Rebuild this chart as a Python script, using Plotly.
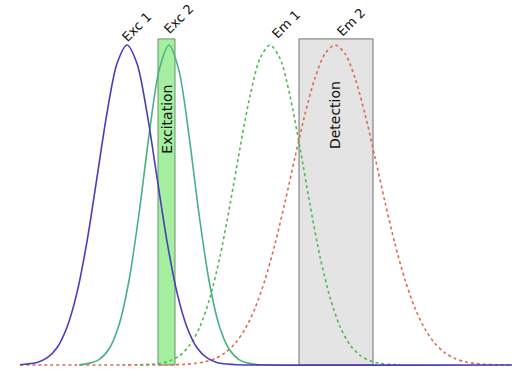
import plotly.graph_objects as go

# Spectra (arbitrary wavelength units, relative intensity)
exc1_x = [20, 27, 37, 47, 57, 67, 77, 87, 97, 107, 117, 127, 137, 147, 157, 167, 177, 187, 197, 207, 217, 227, 237, 512]
exc1_y = [0.001, 0.003, 0.008, 0.022, 0.054, 0.118, 0.226, 0.386, 0.586, 0.788, 0.942, 1.0, 0.942, 0.788, 0.586, 0.386, 0.226, 0.118, 0.054, 0.022, 0.008, 0.003, 0.001, 0.0]

exc2_x = [79, 89, 99, 109, 119, 129, 139, 149, 159, 169, 179, 189, 199, 209, 219, 229, 239, 249, 259]
exc2_y = [0.001, 0.005, 0.017, 0.050, 0.125, 0.264, 0.472, 0.717, 0.920, 1.0, 0.920, 0.717, 0.472, 0.264, 0.125, 0.050, 0.017, 0.005, 0.001]

em1_x = [140, 150, 160, 170, 180, 190, 200, 210, 220, 230, 240, 250, 260, 270, 280, 290, 300, 310, 320, 330, 340, 350, 360, 370, 380, 390, 400]
em1_y = [0.001, 0.002, 0.005, 0.013, 0.030, 0.063, 0.120, 0.211, 0.339, 0.501, 0.678, 0.841, 0.958, 1.0, 0.958, 0.841, 0.678, 0.501, 0.339, 0.211, 0.120, 0.063, 0.030, 0.013, 0.005, 0.002, 0.001]

em2_x = [20, 175, 185, 195, 205, 215, 225, 235, 245, 255, 265, 275, 285, 295, 305, 315, 325, 335, 345, 355, 365, 375, 385, 395, 405, 415, 425, 435, 445, 455, 465, 475, 485, 495, 512]
em2_y = [0.0, 0.001, 0.002, 0.005, 0.010, 0.020, 0.038, 0.067, 0.112, 0.177, 0.266, 0.378, 0.509, 0.649, 0.784, 0.897, 0.973, 1.0, 0.973, 0.897, 0.784, 0.649, 0.509, 0.378, 0.266, 0.177, 0.112, 0.067, 0.038, 0.020, 0.010, 0.005, 0.002, 0.001, 0.0]

curve_labels = ["Exc 1", "Exc 2", "Em 1", "Em 2"]
band_labels = ["Excitation", "Detection"]
excitation_band = [158, 175]
detection_band = [299, 373]
band_top = 1.019

fig = go.Figure()

fig.add_shape(type="rect", x0=excitation_band[0], x1=excitation_band[1], y0=0, y1=band_top,
              fillcolor="#a4f0a0", line=dict(color="#6f8f6f", width=1), layer="below")
fig.add_shape(type="rect", x0=detection_band[0], x1=detection_band[1], y0=0, y1=band_top,
              fillcolor="#e4e4e4", line=dict(color="#707070", width=1), layer="below")

fig.add_trace(go.Scatter(x=em2_x, y=em2_y, mode="lines", line=dict(color="#df6a4e", width=1.6, dash="3px,3px", shape="spline", smoothing=0.8)))
fig.add_trace(go.Scatter(x=em1_x, y=em1_y, mode="lines", line=dict(color="#52b852", width=1.6, dash="3px,3px", shape="spline", smoothing=0.8)))
fig.add_trace(go.Scatter(x=exc2_x, y=exc2_y, mode="lines", line=dict(color="#47b283", width=1.6, shape="spline", smoothing=0.8)))
fig.add_trace(go.Scatter(x=exc1_x, y=exc1_y, mode="lines", line=dict(color="#4a3db5", width=1.6, shape="spline", smoothing=0.8)))

label_pos = [(136, 1.056), (178, 1.081), (286, 1.0625), (351, 1.069)]
for txt, (lx, ly) in zip(curve_labels, label_pos):
    fig.add_annotation(x=lx, y=ly, text=txt, showarrow=False, textangle=-45,
                       font=dict(family="DejaVu Sans", size=13, color="#111111"))

band_pos = [(167, 0.766), (335, 0.781)]
for txt, (lx, ly) in zip(band_labels, band_pos):
    fig.add_annotation(x=lx, y=ly, text=txt, showarrow=False, textangle=-90,
                       font=dict(family="DejaVu Sans", size=14, color="#111111"))

fig.update_layout(
    width=512, height=369, margin=dict(l=0, r=0, t=0, b=0),
    paper_bgcolor="white", plot_bgcolor="white", showlegend=False,
    xaxis=dict(range=[0, 512], visible=False, fixedrange=True),
    yaxis=dict(range=[-0.0125, 1.1406], visible=False, fixedrange=True),
)

fig.write_html("out.html")
